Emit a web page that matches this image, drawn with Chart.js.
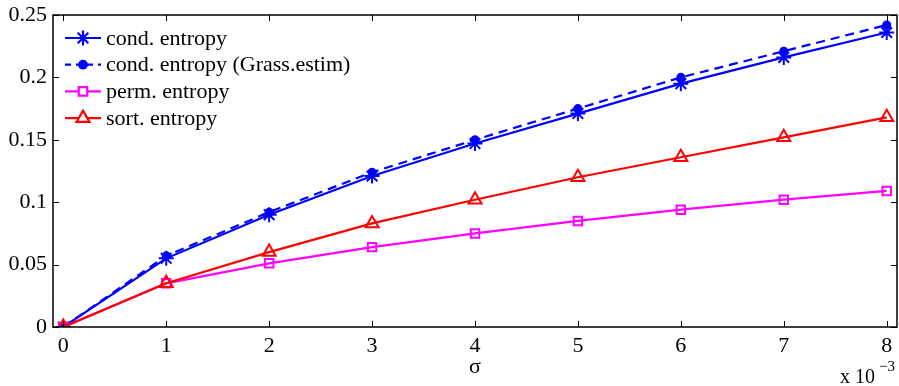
<!DOCTYPE html>
<html>
<head>
<meta charset="utf-8">
<script src="https://cdn.jsdelivr.net/npm/chart.js@4"></script>
<style>
  html, body { margin:0; padding:0; background:#fff; }
  #wrap { width:899px; height:386px; }
</style>
</head>
<body>
<div id="wrap"><canvas id="c" width="899" height="386"></canvas></div>
<script>
// data (sigma in units of 1e-3)
const sigma = [0, 1, 2, 3, 4, 5, 6, 7, 8];
const condEntropy = [0, 0.055, 0.090, 0.121, 0.147, 0.171, 0.195, 0.216, 0.236];
const condGrass = [0, 0.057, 0.092, 0.124, 0.150, 0.175, 0.200, 0.221, 0.242];
const permEntropy = [0, 0.035, 0.051, 0.064, 0.075, 0.085, 0.094, 0.102, 0.109];
const sortEntropy = [0, 0.035, 0.060, 0.083, 0.102, 0.120, 0.136, 0.152, 0.168];
const xTicks = [0, 1, 2, 3, 4, 5, 6, 7, 8];
const yTicks = [0, 0.05, 0.1, 0.15, 0.2, 0.25];
const labels = ['cond. entropy', 'cond. entropy (Grass.estim)', 'perm. entropy', 'sort. entropy'];

const FONT = '"Liberation Serif", "DejaVu Serif", serif';
const pts = ys => sigma.map((x,i)=>({x, y: ys[i]}));

const series = [
  { data: condEntropy, color:'#0000ff', style:'star', r:7.5, dash:[], fill:false, bw:2 },
  { data: condGrass, color:'#0000ff', style:'circle', r:3.8, dash:[9,6], fill:true, bw:1.5 },
  { data: permEntropy, color:'#ff00ff', style:'rect', r:6, dash:[], fill:false, bw:2 },
  { data: sortEntropy, color:'#ff0000', style:'triangle', r:7.5, dash:[], fill:false, bw:2 }
];

// box, inward ticks, x tick labels, legend, exponent label
const decor = {
  id:'decor',
  afterDatasetsDraw(chart){
    const {ctx, chartArea:a, scales:{x, y}} = chart;
    ctx.save();
    ctx.strokeStyle = '#000'; ctx.lineWidth = 1; ctx.setLineDash([]);
    ctx.beginPath();
    xTicks.forEach(v=>{
      const px = Math.round(x.getPixelForValue(v))+0.5;
      ctx.moveTo(px, a.bottom); ctx.lineTo(px, a.bottom-6);
      ctx.moveTo(px, a.top); ctx.lineTo(px, a.top+6);
    });
    yTicks.forEach(v=>{
      const py = Math.round(y.getPixelForValue(v))+0.5;
      ctx.moveTo(a.left, py); ctx.lineTo(a.left+6, py);
      ctx.moveTo(a.right, py); ctx.lineTo(a.right-6, py);
    });
    ctx.stroke();
    ctx.lineWidth = 1.5;
    ctx.strokeRect(a.left, a.top, a.right-a.left, a.bottom-a.top);

    // x tick labels
    ctx.fillStyle = '#000';
    ctx.font = '22px ' + FONT;
    ctx.textAlign = 'center'; ctx.textBaseline = 'top';
    xTicks.forEach(v=> ctx.fillText(String(v), x.getPixelForValue(v), a.bottom + 8));

    // legend
    ctx.textBaseline = 'middle'; ctx.textAlign = 'left';
    series.forEach((s,i)=>{
      const yy = a.top + 23 + i*26.7;
      const x0 = a.left + 12, x1 = a.left + 48, xm = (x0+x1)/2;
      ctx.strokeStyle = s.color; ctx.fillStyle = s.color;
      ctx.lineWidth = 2.2; ctx.setLineDash(s.dash.length ? [6,5] : []);
      ctx.beginPath(); ctx.moveTo(x0, yy); ctx.lineTo(x1, yy); ctx.stroke();
      ctx.setLineDash([]);
      ctx.fillStyle = s.fill ? s.color : '#fff';
      Chart.helpers.drawPoint(ctx, {pointStyle:s.style, radius:s.r, rotation:0, borderWidth:s.bw}, xm, yy);
      ctx.fillStyle = '#000';
      ctx.fillText(labels[i], a.left + 53, yy+1);
    });

    // x 10^-3
    ctx.fillStyle = '#000'; ctx.textBaseline = 'alphabetic';
    ctx.font = '20px ' + FONT;
    ctx.fillText('x 10', 840, 383);
    ctx.font = '15px ' + FONT;
    ctx.fillText('\u22123', 879, 371);
    ctx.restore();
  }
};

new Chart(document.getElementById('c'), {
  type:'line',
  data:{
    datasets: series.map((s,i)=>({
      label: labels[i],
      data: pts(s.data),
      borderColor: s.color,
      backgroundColor: s.fill ? s.color : 'rgba(255,255,255,0)',
      borderWidth: 2.2,
      borderDash: s.dash,
      pointStyle: s.style,
      pointRadius: s.r,
      pointBorderWidth: s.bw,
      pointBorderColor: s.color,
      pointBackgroundColor: s.fill ? s.color : 'rgba(255,255,255,0)',
      tension: 0,
      fill: false
    })).reverse()
  },
  options:{
    responsive:false,
    animation:false,
    events:[],
    layout:{ autoPadding:false, padding:{ top:15, right:2, left:0, bottom:0 } },
    plugins:{ legend:{display:false}, tooltip:{enabled:false} },
    scales:{
      x:{
        type:'linear', min:-0.1, max:8.1,
        afterBuildTicks: sc => { sc.ticks = xTicks.map(v=>({value:v})); },
        afterFit: sc => { sc.height = 59; sc.paddingLeft = 0; sc.paddingRight = 0; },
        grid:{ display:false, drawTicks:false },
        border:{ display:false },
        ticks:{ display:false },
        title:{ display:true, text:'\u03c3', color:'#000', padding:{top:0, bottom:6}, font:{family:FONT, size:22} }
      },
      y:{
        type:'linear', min:0, max:0.25,
        afterBuildTicks: sc => { sc.ticks = yTicks.map(v=>({value:v})); },
        afterFit: sc => { sc.width = 53; sc.paddingTop = 0; sc.paddingBottom = 0; },
        grid:{ display:false, drawTicks:false },
        border:{ display:false },
        ticks:{ color:'#000', padding:6, font:{family:FONT, size:22}, callback:v=>String(+v.toFixed(2)) }
      }
    }
  },
  plugins:[decor]
});
</script>
</body>
</html>
